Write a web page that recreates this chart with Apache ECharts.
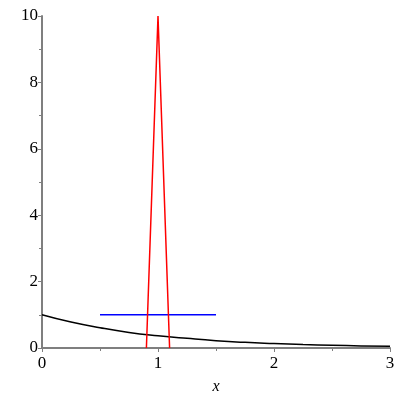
<!DOCTYPE html>
<html>
<head>
<meta charset="utf-8">
<script src="https://cdn.jsdelivr.net/npm/echarts@6/dist/echarts.min.js"></script>
<style>html,body{margin:0;padding:0;background:#fff;}#c{width:400px;height:400px;}</style>
</head>
<body>
<div id="c"></div>
<script>
var curveX = [0, 0.25, 0.5, 0.75, 1, 1.25, 1.5, 1.75, 2, 2.25, 2.5, 2.75, 3];
var curveY = [1, 0.78, 0.61, 0.47, 0.37, 0.29, 0.22, 0.17, 0.135, 0.105, 0.082, 0.064, 0.05];
var spikeX = [0.9, 1.0, 1.1];
var spikeY = [0, 10, 0];
var flatX = [0.5, 1.5];
var flatY = [1, 1];
var xTicks = [0, 1, 2, 3];
var yTicks = [0, 2, 4, 6, 8, 10];

function pairs(xs, ys){ return xs.map(function(x,i){ return [x, ys[i]]; }); }

var font = 'Liberation Serif';
var chart = echarts.init(document.getElementById('c'));
chart.setOption({
  animation: false,
  grid: {left: 42, right: 10, top: 16, bottom: 51},
  xAxis: {
    type: 'value', min: xTicks[0], max: xTicks[xTicks.length-1], interval: 1,
    name: 'x', nameLocation: 'middle', nameGap: 31,
    nameTextStyle: {fontFamily: font, fontStyle: 'italic', fontSize: 16, color: '#000'},
    axisLine: {lineStyle: {color: '#7f7f7f', width: 2}},
    axisTick: {show: true, length: 4, lineStyle: {color: '#7f7f7f'}},
    minorTick: {show: true, splitNumber: 2, length: 3, lineStyle: {color: '#7f7f7f'}},
    axisLabel: {fontFamily: font, fontSize: 17, color: '#000', margin: 7},
    splitLine: {show: false}
  },
  yAxis: {
    type: 'value', min: yTicks[0], max: yTicks[yTicks.length-1], interval: 2,
    axisLine: {show: true, lineStyle: {color: '#7f7f7f', width: 2}},
    axisTick: {show: true, length: 4, lineStyle: {color: '#7f7f7f'}},
    minorTick: {show: true, splitNumber: 2, length: 3, lineStyle: {color: '#7f7f7f'}},
    axisLabel: {fontFamily: font, fontSize: 17, color: '#000', margin: 4},
    splitLine: {show: false}
  },
  series: [
    {type: 'line', data: pairs(curveX, curveY), showSymbol: false, smooth: true, lineStyle: {color: '#000', width: 1.5}, z: 3},
    {type: 'line', data: pairs(spikeX, spikeY), showSymbol: false, lineStyle: {color: '#ff0000', width: 1.5}, z: 4},
    {type: 'line', data: pairs(flatX, flatY), showSymbol: false, lineStyle: {color: '#0000ff', width: 1.5}, z: 2}
  ]
});
</script>
</body>
</html>
